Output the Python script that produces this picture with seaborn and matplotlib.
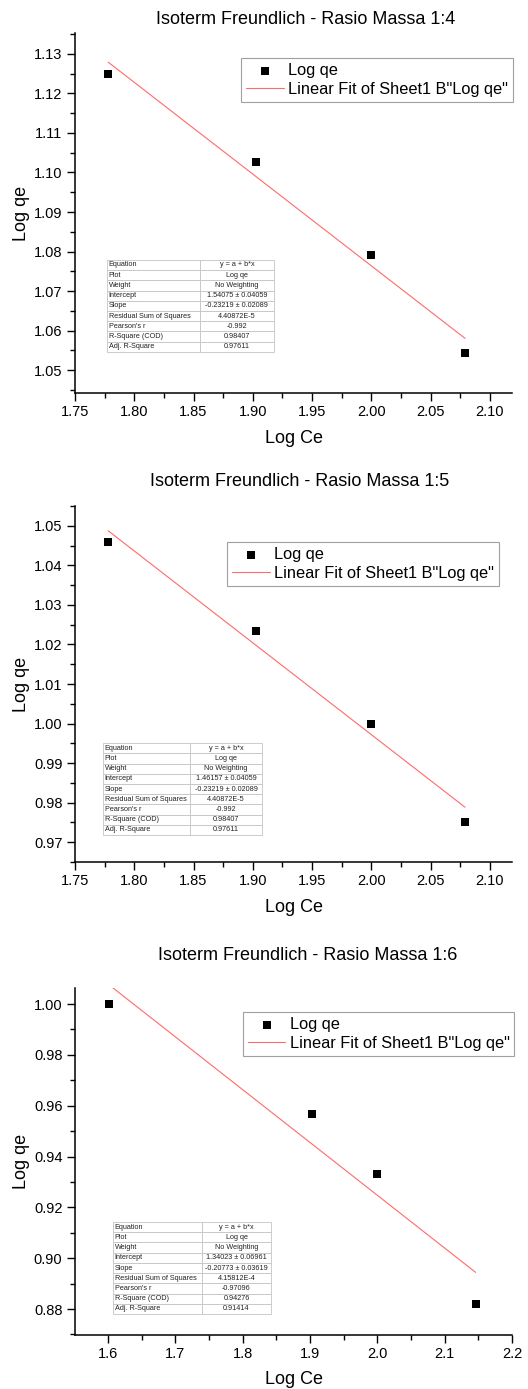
import numpy as np
import pandas as pd
import matplotlib
matplotlib.use('Agg')
import matplotlib.pyplot as plt
import seaborn as sns
from matplotlib.ticker import MultipleLocator, FormatStrFormatter

# Datos
titulos = ['Isoterm Freundlich - Rasio Massa 1:4',
           'Isoterm Freundlich - Rasio Massa 1:5',
           'Isoterm Freundlich - Rasio Massa 1:6']

log_ce_14 = [1.778, 1.903, 2.000, 2.079]
log_qe_14 = [1.1250, 1.1027, 1.0792, 1.0544]

log_ce_15 = [1.778, 1.903, 2.000, 2.079]
log_qe_15 = [1.0458, 1.0234, 1.0000, 0.9752]

log_ce_16 = [1.602, 1.903, 2.000, 2.146]
log_qe_16 = [1.0000, 0.9566, 0.9330, 0.8820]

intercepto = [1.54075, 1.46157, 1.34023]
pendiente = [-0.23219, -0.23219, -0.20773]

etiquetas_tabla = ['Equation', 'Plot', 'Weight', 'Intercept', 'Slope',
                   'Residual Sum of Squares', "Pearson's r",
                   'R-Square (COD)', 'Adj. R-Square']
valores_14 = ['y = a + b*x', 'Log qe', 'No Weighting', '1.54075 ± 0.04059',
              '-0.23219 ± 0.02089', '4.40872E-5', '-0.992', '0.98407', '0.97611']
valores_15 = ['y = a + b*x', 'Log qe', 'No Weighting', '1.46157 ± 0.04059',
              '-0.23219 ± 0.02089', '4.40872E-5', '-0.992', '0.98407', '0.97611']
valores_16 = ['y = a + b*x', 'Log qe', 'No Weighting', '1.34023 ± 0.06961',
              '-0.20773 ± 0.03619', '4.15812E-4', '-0.97096', '0.94276', '0.91414']

sns.set_style('ticks')
plt.rcParams['font.family'] = ['Liberation Sans', 'DejaVu Sans']
plt.rcParams['text.color'] = 'black'
plt.rcParams['axes.labelcolor'] = 'black'

W, H = 528, 1389
fig = plt.figure(figsize=(W / 100, H / 100), dpi=100)

# posiciones en pixeles de cada panel
paneles = [
    dict(top=33, bot=393, xlim=(1.75, 2.1186), ylim=(1.0442, 1.1353), xmaj=0.05, ymaj=0.01,
         fmt='%.2f', tabla=[0.073, 0.114, 0.382, 0.256], col0=0.557, leg=(0.38, 0.93),
         tx=306, ty=20, ce=log_ce_14, qe=log_qe_14, vals=valores_14),
    dict(top=506, bot=862, xlim=(1.75, 2.1186), ylim=(0.965, 1.055), xmaj=0.05, ymaj=0.01,
         fmt='%.2f', tabla=[0.064, 0.076, 0.364, 0.258], col0=0.547, leg=(0.348, 0.899),
         tx=300, ty=481, ce=log_ce_15, qe=log_qe_15, vals=valores_15),
    dict(top=988, bot=1335, xlim=(1.551, 2.2), ylim=(0.8698, 1.0063), xmaj=0.1, ymaj=0.02,
         fmt='%.1f', tabla=[0.087, 0.0605, 0.3616, 0.265], col0=0.563, leg=(0.384, 0.931),
         tx=308, ty=955, ce=log_ce_16, qe=log_qe_16, vals=valores_16),
]

x0_px, x1_px = 75, 512
for i, p in enumerate(paneles):
    ax = fig.add_axes([x0_px / W, 1 - p['bot'] / H, (x1_px - x0_px) / W, (p['bot'] - p['top']) / H])

    datos = pd.DataFrame({'Log Ce': p['ce'], 'Log qe': p['qe']})
    xs = np.array([min(p['ce']), max(p['ce'])])
    ajuste = pd.DataFrame({'x': xs, 'y': intercepto[i] + pendiente[i] * xs})

    sns.scatterplot(data=datos, x='Log Ce', y='Log qe', marker='s', s=30, color='black',
                    linewidth=0, label='Log qe', ax=ax, zorder=3)
    sns.lineplot(data=ajuste, x='x', y='y', color='#ff6a6a', linewidth=0.8,
                 label='Linear Fit of Sheet1 B"Log qe"', ax=ax)

    ax.set_xlim(*p['xlim'])
    ax.set_ylim(*p['ylim'])
    ax.xaxis.set_major_locator(MultipleLocator(p['xmaj']))
    ax.xaxis.set_minor_locator(MultipleLocator(p['xmaj'] / 2))
    ax.yaxis.set_major_locator(MultipleLocator(p['ymaj']))
    ax.yaxis.set_minor_locator(MultipleLocator(p['ymaj'] / 2))
    ax.xaxis.set_major_formatter(FormatStrFormatter(p['fmt']))
    ax.yaxis.set_major_formatter(FormatStrFormatter('%.2f'))
    ax.tick_params(which='major', direction='out', length=6, width=1, labelsize=10.5, pad=3,
                   color='black', labelcolor='black')
    ax.tick_params(which='minor', direction='out', length=3.5, width=1, color='black')
    sns.despine(ax=ax)
    for s in ['left', 'bottom']:
        ax.spines[s].set_linewidth(1.1)
        ax.spines[s].set_color('black')
    ax.set_xlabel('')
    ax.set_ylabel('')

    fig.text(p['tx'] / W, 1 - p['ty'] / H, titulos[i], ha='center', va='center', fontsize=13)
    fig.text(294 / W, 1 - (p['bot'] + 45) / H, 'Log Ce', ha='center', va='center', fontsize=13)
    fig.text(21 / W, 1 - ((p['top'] + p['bot']) / 2) / H, 'Log qe', ha='center', va='center',
             rotation=90, fontsize=13)

    leg = ax.legend(loc='upper left', bbox_to_anchor=p['leg'], fontsize=11.8, frameon=True,
                    fancybox=False, framealpha=1, edgecolor='#a0a0a0', borderpad=0.3,
                    labelspacing=0.25, handlelength=2.3, handletextpad=0.25, borderaxespad=0)
    leg.get_frame().set_linewidth(0.8)

    filas = [[e, v] for e, v in zip(etiquetas_tabla, p['vals'])]
    tabla = ax.table(cellText=filas, colWidths=[p['col0'], 1 - p['col0']],
                     bbox=p['tabla'], zorder=2)
    tabla.auto_set_font_size(False)
    for (r, c), celda in tabla.get_celld().items():
        celda.set_edgecolor('#c4c4c4')
        celda.set_linewidth(0.6)
        celda.set_facecolor('white')
        t = celda.get_text()
        t.set_fontsize(5.2)
        t.set_color('#222222')
        if c == 0:
            t.set_ha('left')
            celda.PAD = 0.02
        else:
            t.set_ha('center')

fig.savefig('out.png', dpi=100)
